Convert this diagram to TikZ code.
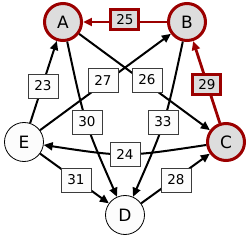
\documentclass[tikz,border=0pt]{standalone}
\usepackage{fontspec}
\setmainfont{DejaVu Sans}
\usetikzlibrary{arrows.meta}
\definecolor{hired}{RGB}{155,0,0}
\definecolor{hifill}{RGB}{221,221,221}
\definecolor{plainfill}{RGB}{252,252,252}
\definecolor{boxline}{RGB}{60,60,60}
\begin{document}
\begin{tikzpicture}[x=1pt,y=-1pt,
  vtx/.style={circle, minimum size=39pt, inner sep=0pt, font=\fontsize{17}{17}\selectfont,
    draw=black, line width=0.8pt, fill=plainfill},
  hivtx/.style={vtx, minimum size=37pt, draw=hired, line width=3pt, fill=hifill},
  edge/.style={line width=2pt, draw=black, -{Triangle[length=9pt,width=8pt]}},
  hiedge/.style={line width=2.8pt, draw=hired, -{Triangle[length=9pt,width=8pt]}},
  lbl/.style={draw=boxline, line width=0.8pt, fill=plainfill, minimum width=30pt, minimum height=24pt,
    inner sep=0pt, font=\fontsize{13.5}{13.5}\selectfont},
  hilbl/.style={lbl, draw=hired, line width=3pt, fill=hifill, minimum width=28pt, minimum height=20pt}]
\useasboundingbox (0,0) rectangle (250,241);
% vertices
\node[hivtx] (A) at (63,22) {A};
\node[hivtx] (B) at (187,22) {B};
\node[hivtx] (C) at (226,142) {C};
\node[vtx] (D) at (125,215) {D};
\node[vtx] (E) at (24,142) {E};
% edges
\draw[edge] (E) -- (A);
\draw[edge] (E) -- (B);
\draw[edge] (A) -- (C);
\draw[edge] (A) .. controls (84.7,123.3) .. (D);
\draw[edge] (B) .. controls (165.3,123.3) .. (D);
\draw[edge] (C) .. controls (125,157.3) .. (E);
\draw[edge] (E) -- (D);
\draw[edge] (D) -- (C);
\draw[hiedge] (B) -- (A);
\draw[hiedge] (C) -- (B);
% labels
\node[hilbl] (l25) at (125,20) {25};
\node[hilbl] (l29) at (207,85) {29};
\node[lbl] (l23) at (43,86) {23};
\node[lbl] (l27) at (103,80) {27};
\node[lbl] (l26) at (147,80) {26};
\node[lbl] (l30) at (87,122) {30};
\node[lbl] (l33) at (163,122) {33};
\node[lbl] (l24) at (125,154) {24};
\node[lbl] (l31) at (76,180) {31};
\node[lbl] (l28) at (176,180) {28};
\end{tikzpicture}
\end{document}
